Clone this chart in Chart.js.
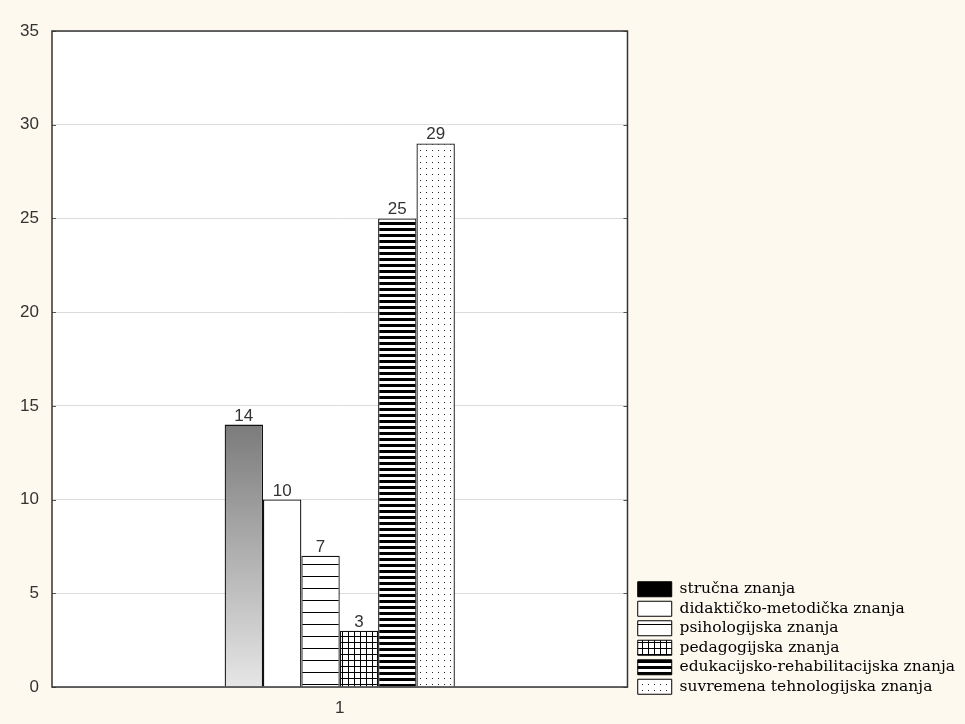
<!DOCTYPE html>
<html>
<head>
<meta charset="utf-8">
<script src="https://cdn.jsdelivr.net/npm/chart.js@4.4.1/dist/chart.umd.min.js"></script>
<style>
  html, body { margin: 0; padding: 0; background: #fdf9ee; }
  canvas { display: block; }
</style>
</head>
<body>
<canvas id="chart" width="965" height="724"></canvas>
<script>
const categories = ["1"];
const seriesNames = [
  "stručna znanja",
  "didaktičko-metodička znanja",
  "psihologijska znanja",
  "pedagogijska znanja",
  "edukacijsko-rehabilitacijska znanja",
  "suvremena tehnologijska znanja"
];
const seriesValues = [14, 10, 7, 3, 25, 29];
const yTicks = [0, 5, 10, 15, 20, 25, 30, 35];

const canvas = document.getElementById("chart");
const ctx = canvas.getContext("2d");

// small tiles for the hatch fills
function makePattern(w, h, paint) {
  const c = document.createElement("canvas");
  c.width = w;
  c.height = h;
  const g = c.getContext("2d");
  g.fillStyle = "#fff";
  g.fillRect(0, 0, w, h);
  g.fillStyle = "#000";
  paint(g);
  return ctx.createPattern(c, "repeat");
}

const hLines = makePattern(4, 12, g => g.fillRect(0, 0, 4, 1));
const grid = makePattern(6, 6, g => { g.fillRect(0, 0, 6, 1); g.fillRect(0, 0, 1, 6); });
const stripes = makePattern(4, 6, g => g.fillRect(0, 0, 4, 3));
const dots = makePattern(6, 6, g => { g.fillStyle = "#222"; g.fillRect(0, 0, 1, 1); });

function greyGradient(c) {
  const chart = c.chart;
  if (!chart.chartArea) return "#999";
  const y = chart.scales.y;
  const g = chart.ctx.createLinearGradient(0, y.getPixelForValue(seriesValues[0]), 0, y.getPixelForValue(0));
  g.addColorStop(0, "#7b7b7b");
  g.addColorStop(1, "#e6e6e6");
  return g;
}

const barFills = [greyGradient, "#fff", hLines, grid, stripes, dots];
const legendFills = ["#000", "#fff", hLines, grid, stripes, dots];

const plotBackground = {
  id: "plotBackground",
  beforeDraw(chart) {
    const a = chart.chartArea;
    const c = chart.ctx;
    c.save();
    c.fillStyle = "#fdf9ee";
    c.fillRect(0, 0, chart.width, chart.height);
    c.fillStyle = "#fff";
    c.fillRect(a.left, a.top, a.right - a.left, a.bottom - a.top);
    c.restore();
  }
};

const frameAndLabels = {
  id: "frameAndLabels",
  afterDatasetsDraw(chart) {
    const c = chart.ctx;
    const a = chart.chartArea;
    const y = chart.scales.y;
    c.save();
    c.font = "17px Arial, 'Liberation Sans'";
    c.fillStyle = "#333";
    c.textAlign = "center";
    c.textBaseline = "alphabetic";
    chart.data.datasets.forEach((ds, i) => {
      const bar = chart.getDatasetMeta(i).data[0];
      c.fillText(String(ds.data[0]), bar.x, bar.y - 4);
    });
    // short inner tick marks on both sides
    c.strokeStyle = "#555";
    c.lineWidth = 1;
    yTicks.forEach(v => {
      const py = Math.round(y.getPixelForValue(v)) + 0.5;
      c.beginPath();
      c.moveTo(a.left, py); c.lineTo(a.left + 4, py);
      c.moveTo(a.right - 4, py); c.lineTo(a.right, py);
      c.stroke();
    });
    c.strokeStyle = "#333";
    c.lineWidth = 1.5;
    c.strokeRect(a.left, a.top, a.right - a.left, a.bottom - a.top);
    c.restore();
  }
};

new Chart(ctx, {
  type: "bar",
  data: {
    labels: categories,
    datasets: seriesNames.map((name, i) => ({
      label: name,
      data: [seriesValues[i]],
      backgroundColor: barFills[i],
      borderColor: "#111",
      borderWidth: 1.3,
      categoryPercentage: 0.4,
      barPercentage: 1
    }))
  },
  options: {
    responsive: false,
    animation: false,
    layout: { padding: { top: 31, bottom: 25.5, left: 0, right: 0 } },
    plugins: {
      tooltip: { enabled: false },
      legend: {
        position: "right",
        align: "end",
        maxWidth: 400,
        labels: {
          boxWidth: 34,
          boxHeight: 15,
          padding: 4,
          color: "#111",
          font: { family: "'DejaVu Serif'", size: 15.5 },
          generateLabels: () => seriesNames.map((name, i) => ({
            text: name,
            fillStyle: legendFills[i],
            strokeStyle: "#000",
            lineWidth: 1,
            hidden: false,
            datasetIndex: i
          }))
        }
      }
    },
    scales: {
      x: {
        grid: { display: false },
        border: { display: false },
        // x box is kept short so the legend sits low; mirror stops the label being clipped to it
        ticks: { mirror: true, padding: -32, autoSkip: false, maxRotation: 0, color: "#333", font: { family: "Arial", size: 17 } },
        afterFit: s => { s.height = 11.5; }
      },
      y: {
        min: yTicks[0],
        max: yTicks[yTicks.length - 1],
        grid: { color: "#dcdcdc", drawTicks: false },
        border: { display: false },
        ticks: { stepSize: 5, color: "#333", font: { family: "Arial", size: 17 }, padding: 13 },
        afterFit: s => { s.width = 52; }
      },
      spacer: {
        type: "linear",
        position: "right",
        display: true,
        grid: { display: false },
        border: { display: false },
        ticks: { display: false },
        afterFit: s => { s.width = 6.25; }
      }
    }
  },
  plugins: [plotBackground, frameAndLabels]
});
</script>
</body>
</html>
